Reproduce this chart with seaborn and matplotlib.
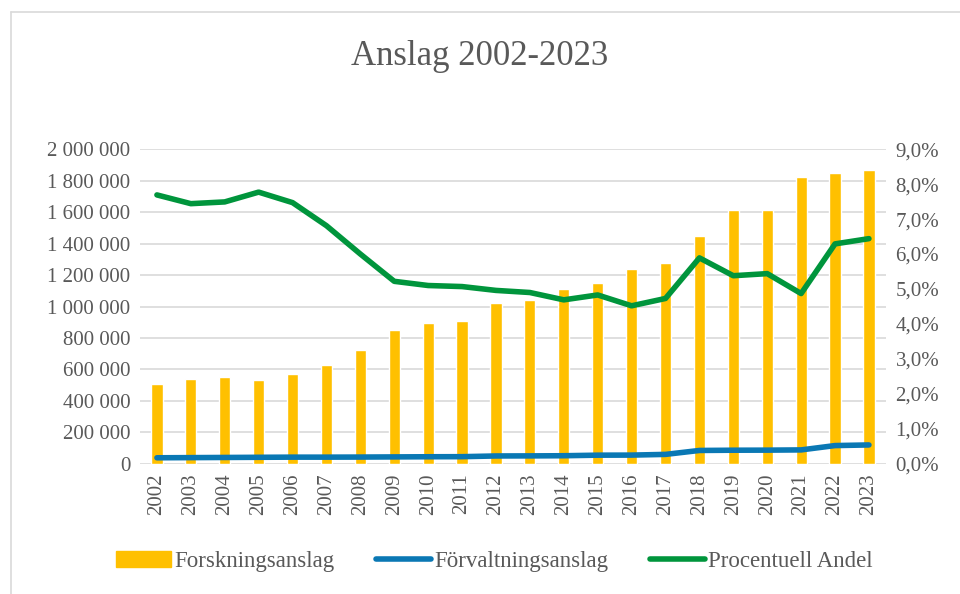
import numpy as np
import pandas as pd
import matplotlib
matplotlib.use("Agg")
import matplotlib.pyplot as plt
from matplotlib.patches import Patch
from matplotlib.lines import Line2D
from matplotlib.ticker import FuncFormatter, MultipleLocator
import seaborn as sns

# Data
years = [str(y) for y in range(2002, 2024)]
forskning = [510000, 540000, 552000, 535000, 571000, 630000, 724000, 848000,
             895000, 905000, 1022000, 1039000, 1109000, 1147000, 1240000,
             1276000, 1448000, 1613000, 1613000, 1824000, 1851000, 1869000]
forvaltning = [39000, 40000, 41000, 42000, 43000, 43000, 43500, 44500,
               45500, 46000, 50500, 51000, 52000, 55500, 56000, 60500,
               85500, 87000, 87500, 89000, 116500, 120500]
andel = [7.69, 7.44, 7.49, 7.77, 7.47, 6.81, 6.00, 5.22, 5.10, 5.07, 4.96,
         4.90, 4.69, 4.83, 4.52, 4.73, 5.89, 5.38, 5.44, 4.87, 6.29, 6.44]

df = pd.DataFrame({"year": years, "pos": np.arange(len(years)),
                   "forskning": forskning, "forvaltning": forvaltning,
                   "andel": andel})

YELLOW = "#FFC000"
BLUE = "#0A78B4"
GREEN = "#00953C"
GREY = "#595959"

sns.set_style("white")
plt.rcParams["font.family"] = ["Liberation Serif", "DejaVu Serif"]

fig = plt.figure(figsize=(9.6, 5.94), dpi=100)
ax = fig.add_axes([0.1458, 0.219, 0.777, 0.530])

sns.barplot(data=df, x="pos", y="forskning", color=YELLOW, width=0.33,
            saturation=1, ax=ax, zorder=2)
sns.lineplot(data=df, x="pos", y="forvaltning", color=BLUE, linewidth=4,
             ax=ax, zorder=3, solid_capstyle="round")
ax.set_ylim(0, 2000000)
ax.set_xlim(-0.5, 21.5)
ax.yaxis.set_major_locator(MultipleLocator(200000))
ax.yaxis.set_major_formatter(FuncFormatter(lambda v, p: f"{int(v):,}".replace(",", " ")))
ax.set_xticks(df["pos"])
ax.set_xticklabels(years, rotation=90)
ax.grid(axis="y", color="#D9D9D9", linewidth=1.2, zorder=0)
ax.set_axisbelow(True)
ax.set_xlabel("")
ax.set_ylabel("")
for s in ax.spines.values():
    s.set_visible(False)
ax.tick_params(axis="both", length=0, labelsize=15, colors=GREY, pad=7)

ax2 = ax.twinx()
sns.lineplot(data=df, x="pos", y="andel", color=GREEN, linewidth=4,
             ax=ax2, zorder=4, solid_capstyle="round")
ax2.set_ylim(0, 9)
ax2.yaxis.set_major_locator(MultipleLocator(1))
ax2.yaxis.set_major_formatter(FuncFormatter(lambda v, p: f"{v:.1f}%".replace(".", ",")))
ax2.set_ylabel("")
for s in ax2.spines.values():
    s.set_visible(False)
ax2.tick_params(axis="y", length=0, labelsize=15, colors=GREY, pad=7)

fig.text(0.5, 0.905, "Anslag 2002-2023", ha="center", va="center",
         fontsize=25, color=GREY)

handles = [Patch(facecolor=YELLOW, edgecolor=YELLOW),
           Line2D([0], [0], color=BLUE, linewidth=4, solid_capstyle="round"),
           Line2D([0], [0], color=GREEN, linewidth=4, solid_capstyle="round")]
labels = ["Forskningsanslag", "Förvaltningsanslag", "Procentuell Andel"]
leg = fig.legend(handles, labels, loc="center", bbox_to_anchor=(0.515, 0.054),
                 ncol=3, frameon=False, fontsize=16.5, handlelength=2.4,
                 handleheight=0.7, columnspacing=1.8, handletextpad=0.15)
for t in leg.get_texts():
    t.set_color(GREY)

# chart frame: only the top and left edges are visible in the reference
fig.add_artist(Line2D([0.011, 0.011], [0.0, 0.979], transform=fig.transFigure,
                      color="#D9D9D9", linewidth=1.2))
fig.add_artist(Line2D([0.011, 1.0], [0.979, 0.979], transform=fig.transFigure,
                      color="#D9D9D9", linewidth=1.2))

fig.savefig("out.png", dpi=100)
